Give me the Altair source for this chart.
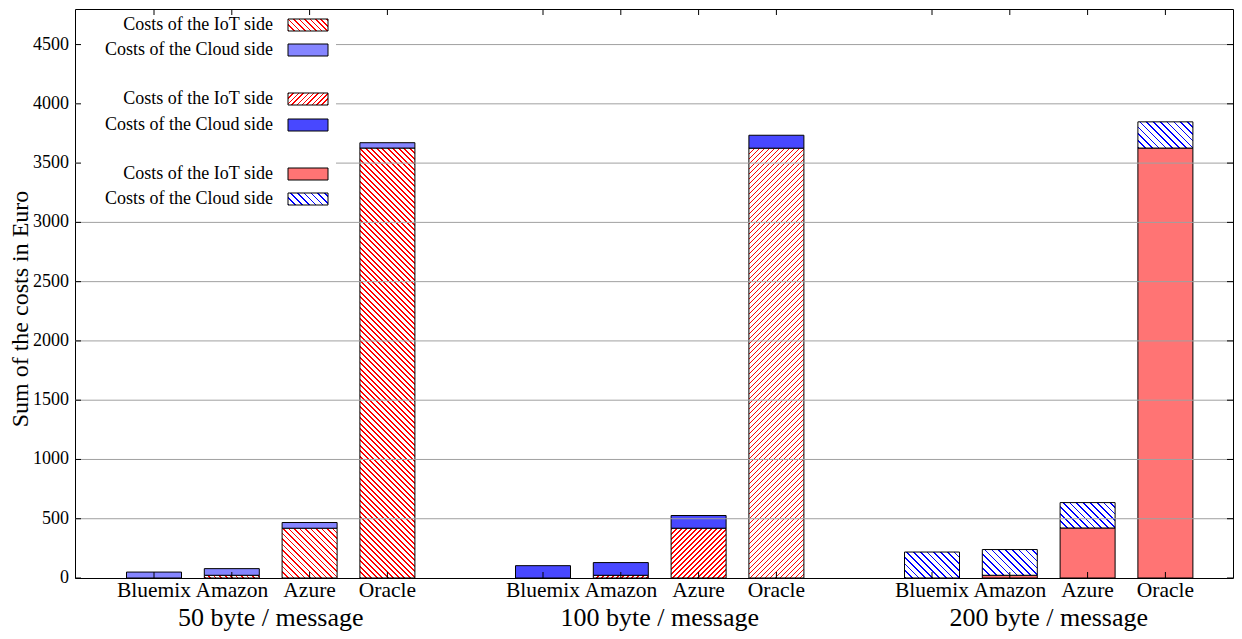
import altair as alt
import pandas as pd

# ---------------- data ----------------
groups = ["50 byte / message", "100 byte / message", "200 byte / message"]
providers = ["Bluemix", "Amazon", "Azure", "Oracle"]
series = ["Costs of the IoT side", "Costs of the Cloud side"]
y_title = "Sum of the costs in Euro"

iot_50 = [0, 23, 420, 3627]
cloud_50 = [50, 56, 48, 45]
iot_100 = [0, 23, 420, 3626]
cloud_100 = [104, 107, 107, 109]
iot_200 = [0, 23, 422, 3627]
cloud_200 = [219, 217, 214, 221]

y_ticks = [0, 500, 1000, 1500, 2000, 2500, 3000, 3500, 4000, 4500]
y_max = 4800

# ---------------- layout / style ----------------
FONT = "Liberation Serif"
W, H = 1158, 569
SLOT_PX = 77.8
X0 = -79 / SLOT_PX
X1 = (W - 79) / SLOT_PX
BAR_PX = 55
BAR_HALF = BAR_PX / SLOT_PX / 2
GROUP_STEP = 5

styles = [
    [("hatch", "#ff0000", "\\", 5.5), ("solid", "#8585ff")],
    [("hatch", "#ff0000", "/", 5.0), ("solid", "#4848ff")],
    [("solid", "#ff7474"), ("hatch", "#0000ff", "\\", 6.8)],
]


def hatch(w, h, color, direction, period, lw=1.7):
    s = w + h
    k = s / (w * w + h * h)
    n = s / period
    stops = []
    i = 0
    while i < n:
        a = i / n
        b = min((i + lw / period) / n, 1.0)
        c = min((i + 1) / n, 1.0)
        stops += [(a, color), (b, color), (b, "#ffffff"), (c, "#ffffff")]
        i += 1
    gs = [alt.GradientStop(offset=round(o, 5), color=col) for o, col in stops]
    if direction == "/":
        return alt.LinearGradient(gradient="linear", stops=gs,
                                  x1=0, y1=0, x2=w * k, y2=h * k)
    return alt.LinearGradient(gradient="linear", stops=gs,
                              x1=0, y1=1, x2=w * k, y2=1 - h * k)


def fill_for(style, w, h):
    if style[0] == "solid":
        return style[1]
    return hatch(w, h, style[1], style[2], style[3])


iot = [iot_50, iot_100, iot_200]
cloud = [cloud_50, cloud_100, cloud_200]
rows = []
for g, gname in enumerate(groups):
    for p, pname in enumerate(providers):
        slot = g * GROUP_STEP + p
        base = 0
        for si, vals in enumerate([iot[g], cloud[g]]):
            v = vals[p]
            rows.append(dict(group=gname, provider=pname, series=series[si],
                             g=g, s=si, slot=slot, start=base, end=base + v, value=v))
            base += v
df = pd.DataFrame(rows)
df["seg"] = range(len(df))

xs = alt.Scale(domain=[X0, X1], nice=False, zero=False)
ys = alt.Scale(domain=[0, y_max], nice=False, zero=True)
slots = [int(v) for v in sorted(df["slot"].unique())]

# ---------------- bars ----------------
layers = []
for r in df.itertuples():
    if r.value <= 0:
        continue
    h_px = r.value * H / y_max
    fill = fill_for(styles[int(r.g)][int(r.s)], BAR_PX, h_px)
    layers.append(
        alt.Chart(df)
        .transform_filter(alt.datum.seg == int(r.seg))
        .transform_calculate(xa=f"datum.slot - {BAR_HALF}", xb=f"datum.slot + {BAR_HALF}")
        .mark_rect(fill=fill, stroke="black", strokeWidth=1)
        .encode(
            x=alt.X("xa:Q", scale=xs, axis=None),
            x2="xb:Q",
            y=alt.Y("start:Q", scale=ys, axis=None),
            y2="end:Q",
        )
    )

# ---------------- grid (in front of bars) ----------------
grid_df = pd.DataFrame({"v": [t for t in y_ticks if t > 0]})
grid = alt.Chart(grid_df).mark_rule(color="#a0a0a0", strokeWidth=1).encode(
    y=alt.Y("v:Q", scale=ys, axis=None), x=alt.value(0), x2=alt.value(W))

# ---------------- legend ----------------
box = alt.Chart(pd.DataFrame({"a": [0]})).mark_rect(fill="white").encode(
    x=alt.value(1), x2=alt.value(261), y=alt.value(1), y2=alt.value(205))

legend_layers = []
legend_rows = [16, 41, 90, 116, 165, 190]
for i, (g, s) in enumerate([(0, 0), (0, 1), (1, 0), (1, 1), (2, 0), (2, 1)]):
    cy = legend_rows[i]
    d = alt.Data(values=[{"label": series[s]}])
    legend_layers.append(
        alt.Chart(d).mark_text(align="right", baseline="middle", font=FONT,
                               fontSize=18, color="black")
        .encode(text="label:N", x=alt.value(198), y=alt.value(cy)))
    legend_layers.append(
        alt.Chart(d).mark_rect(fill=fill_for(styles[g][s], 40, 12), stroke="black",
                               strokeWidth=1)
        .encode(x=alt.value(213), x2=alt.value(253), y=alt.value(cy - 6),
                y2=alt.value(cy + 6)))

# ---------------- ticks (inward, mirrored) ----------------
tick_df = pd.DataFrame({"v": y_ticks})
left_ticks = alt.Chart(tick_df).mark_rule(color="black").encode(
    y=alt.Y("v:Q", scale=ys, axis=None), x=alt.value(0), x2=alt.value(6))
right_ticks = alt.Chart(tick_df).mark_rule(color="black").encode(
    y=alt.Y("v:Q", scale=ys, axis=None), x=alt.value(W - 6), x2=alt.value(W))
slot_df = pd.DataFrame({"slot": slots,
                        "provider": [providers[s % GROUP_STEP] for s in slots]})
top_ticks = alt.Chart(slot_df).mark_rule(color="black").encode(
    x=alt.X("slot:Q", scale=xs, axis=None), y=alt.value(0), y2=alt.value(6))
bottom_ticks = alt.Chart(slot_df).mark_rule(color="black").encode(
    x=alt.X("slot:Q", scale=xs, axis=None), y=alt.value(H - 6), y2=alt.value(H))

# ---------------- labels ----------------
y_labels = alt.Chart(tick_df).mark_text(align="right", baseline="middle", font=FONT,
                                        fontSize=18, color="black").encode(
    y=alt.Y("v:Q", scale=ys, axis=None), x=alt.value(-6), text=alt.Text("v:Q", format="d"))

cat_labels = alt.Chart(slot_df).mark_text(align="center", baseline="top", font=FONT,
                                          fontSize=21.5, color="black").encode(
    x=alt.X("slot:Q", scale=xs, axis=None), y=alt.value(H + 2), text="provider:N")

title_layer = alt.Chart(alt.Data(values=[{"t": y_title}])).mark_text(
    angle=270, align="center", baseline="middle", font=FONT, fontSize=24,
    color="black").encode(x=alt.value(-54), y=alt.value(300), text="t:N")

grp_df = pd.DataFrame({"group": groups,
                       "center": [g * GROUP_STEP + (len(providers) - 1) / 2
                                  for g in range(len(groups))]})
grp = alt.Chart(grp_df).mark_text(font=FONT, fontSize=26, baseline="alphabetic",
                                  align="center", color="black").encode(
    x=alt.X("center:Q", scale=xs, axis=None), y=alt.value(617), text="group:N")

chart = (
    alt.layer(*layers, grid, box, *legend_layers, left_ticks, right_ticks,
              top_ticks, bottom_ticks, y_labels, cat_labels, title_layer, grp)
    .properties(width=W, height=H,
                padding={"left": 67, "top": 1, "right": 1, "bottom": 53},
                autosize=alt.AutoSizeParams(type="none"), background="white")
    .configure_view(stroke="black", strokeWidth=1)
)

chart.save("out.html", embed_options={"renderer": "svg", "actions": False})
